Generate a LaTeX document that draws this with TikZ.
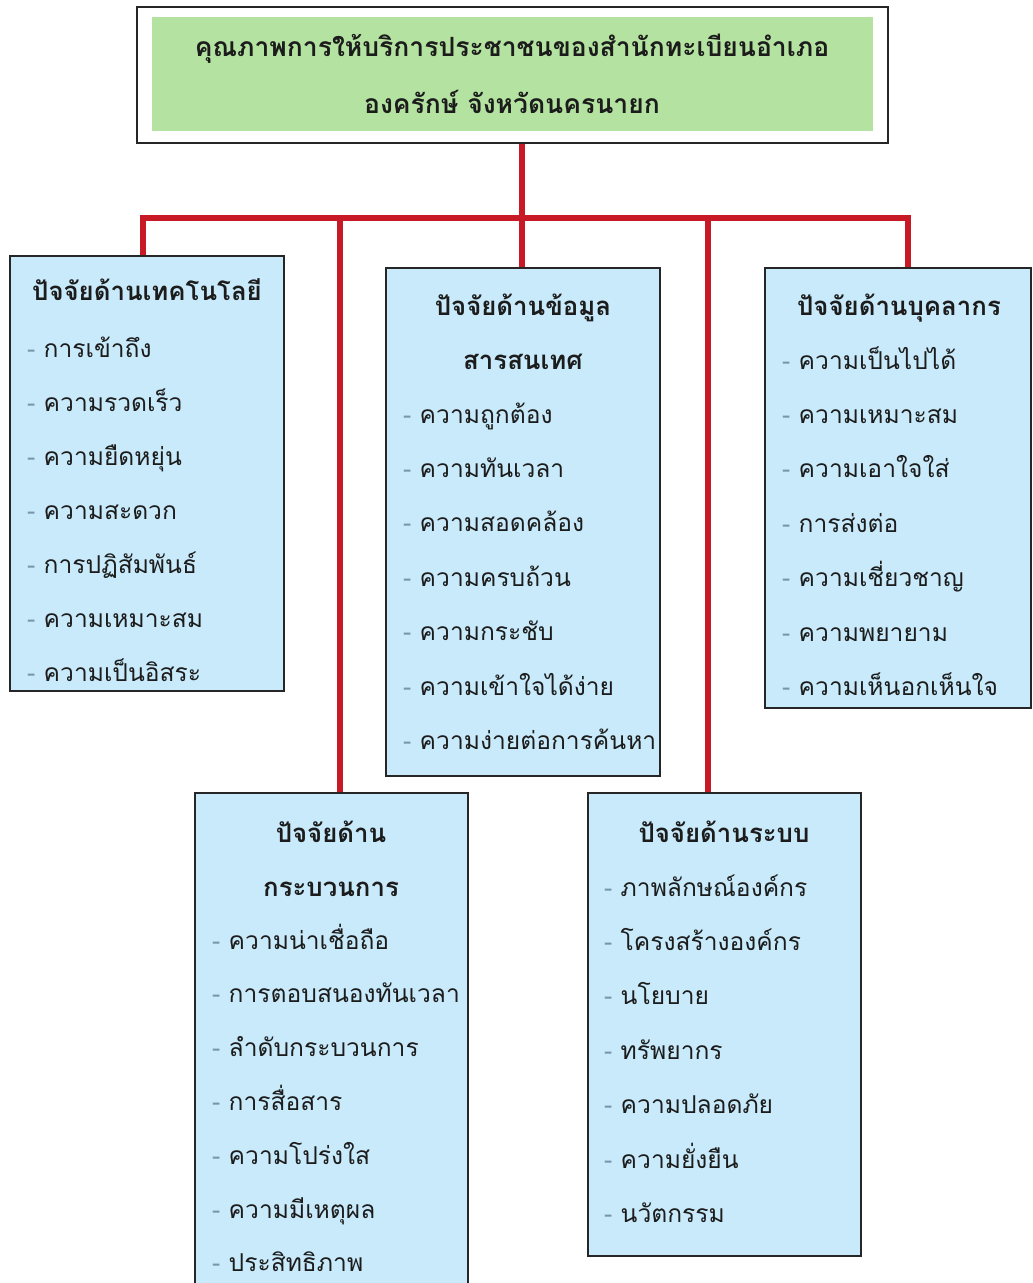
\documentclass[tikz,border=0pt]{standalone}
\usepackage{fontspec}
\usetikzlibrary{fit}
\newfontfamily\thai[Script=Thai]{Loma}
\definecolor{boxblue}{RGB}{200,234,250}
\definecolor{boxgreen}{RGB}{180,226,160}
\definecolor{linered}{RGB}{200,26,38}
\definecolor{txt}{RGB}{28,28,28}
\definecolor{dashc}{RGB}{120,150,170}
\begin{document}
\begin{tikzpicture}[x=0.03cm,y=-0.03cm,
  box/.style={draw=black!85,line width=1.3pt,fill=boxblue,inner sep=0pt},
  titletxt/.style={font=\thai\bfseries\fontsize{22}{26}\selectfont,text=txt,inner sep=0pt,anchor=base},
  toptxt/.style={font=\thai\bfseries\fontsize{22.6}{26}\selectfont,text=txt,inner sep=0pt,anchor=base},
  itemtxt/.style={font=\thai\fontsize{21}{25}\selectfont,text=txt,inner sep=0pt,anchor=base west},
  redline/.style={draw=linered,line width=4.3pt}]
\clip (0,0) rectangle (1033,1283);
\fill[white] (0,0) rectangle (1033,1283);
% top box
\node[draw=black!85,line width=1.3pt,fill=white,inner sep=0pt,fit={(137,7)(888,143)}] (top) {};
\node[fill=boxgreen,inner sep=0pt,fit={(152,17)(873,131)}] (topin) {};
\node[toptxt] (top1) at (512,56) {คุณภาพการให้บริการประชาชนของสำนักทะเบียนอำเภอ};
\node[toptxt] (top2) at (512,113) {องครักษ์ จังหวัดนครนายก};
% boxes
\node[box,fit={(10,256)(284,691)}] (tech) {};
\node[box,fit={(386,268)(660,776)}] (info) {};
\node[box,fit={(765,268)(1031,708)}] (pers) {};
\node[box,fit={(195,793)(468,1300)}] (proc) {};
\node[box,fit={(588,793)(861,1256)}] (sys) {};
% connectors
\coordinate (cL) at (143,218);
\coordinate (cP) at (340,218);
\coordinate (cM) at (522,218);
\coordinate (cS) at (708,218);
\coordinate (cR) at (908,218);
\draw[redline] (top.south -| cM) -- (info.north -| cM);
\draw[redline] (tech.north -| cL) -- (cL) -- (cR) -- (pers.north -| cR);
\draw[redline] (cP) -- (proc.north -| cP);
\draw[redline] (cS) -- (sys.north -| cS);
% tech
\node[titletxt] (techT) at (147,300) {ปัจจัยด้านเทคโนโลยี};
\foreach \s [count=\i] in {การเข้าถึง,ความรวดเร็ว,ความยืดหยุ่น,ความสะดวก,การปฏิสัมพันธ์,ความเหมาะสม,ความเป็นอิสระ}
  \node[itemtxt] (tech\i) at (27,{357+(\i-1)*54}) {\textcolor{dashc}{-} \s};
% info
\node[titletxt] (infoT1) at (523,315) {ปัจจัยด้านข้อมูล};
\node[titletxt] (infoT2) at (523,369) {สารสนเทศ};
\foreach \s [count=\i] in {ความถูกต้อง,ความทันเวลา,ความสอดคล้อง,ความครบถ้วน,ความกระชับ,ความเข้าใจได้ง่าย,ความง่ายต่อการค้นหา}
  \node[itemtxt] (info\i) at (403,{423+(\i-1)*54.4}) {\textcolor{dashc}{-} \s};
% personnel
\node[titletxt] (persT) at (899,315) {ปัจจัยด้านบุคลากร};
\foreach \s [count=\i] in {ความเป็นไปได้,ความเหมาะสม,ความเอาใจใส่,การส่งต่อ,ความเชี่ยวชาญ,ความพยายาม,ความเห็นอกเห็นใจ}
  \node[itemtxt] (pers\i) at (782,{369+(\i-1)*54.4}) {\textcolor{dashc}{-} \s};
% process
\node[titletxt] (procT1) at (331,842) {ปัจจัยด้าน};
\node[titletxt] (procT2) at (331,896) {กระบวนการ};
\foreach \s [count=\i] in {ความน่าเชื่อถือ,การตอบสนองทันเวลา,ลำดับกระบวนการ,การสื่อสาร,ความโปร่งใส,ความมีเหตุผล,ประสิทธิภาพ}
  \node[itemtxt] (proc\i) at (212,{949+(\i-1)*53.8}) {\textcolor{dashc}{-} \s};
% system
\node[titletxt] (sysT) at (724,842) {ปัจจัยด้านระบบ};
\foreach \s [count=\i] in {ภาพลักษณ์องค์กร,โครงสร้างองค์กร,นโยบาย,ทรัพยากร,ความปลอดภัย,ความยั่งยืน,นวัตกรรม}
  \node[itemtxt] (sys\i) at (604,{896+(\i-1)*54.4}) {\textcolor{dashc}{-} \s};
\end{tikzpicture}
\end{document}
